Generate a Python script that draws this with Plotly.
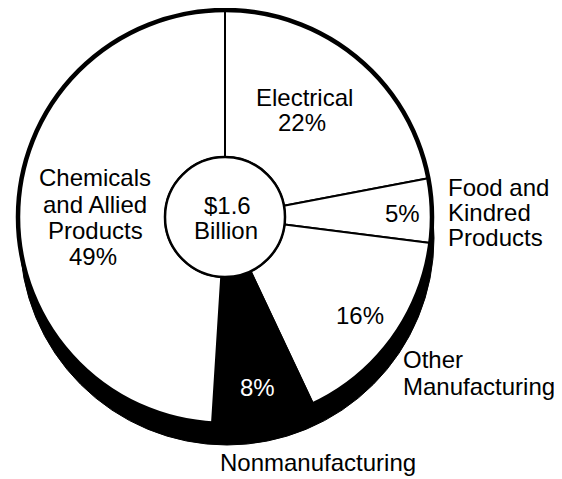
import plotly.graph_objects as go

# ---- data ----
categories = ["Electrical", "Food and Kindred Products", "Other Manufacturing",
              "Nonmanufacturing", "Chemicals and Allied Products"]
shares = [22, 5, 16, 8, 49]
slice_colors = ["white", "white", "white", "black", "white"]
center_label = ["$1.6", "Billion"]

# the page body has an 8px default margin, so the figure is offset by it
OFF = 8
W, H = 562 - OFF, 479 - OFF
CX, CY, R = 225, 217, 207      # pie centre / radius in page pixels
HOLE_R = 60
SHADOW_DX, SHADOW_DY = 2, 21

def px(x):
    return (x - OFF) / W

def py(y):
    return 1 - (y - OFF) / H

FONT = "Liberation Sans, Arial, Helvetica, sans-serif"
FS = 24

fig = go.Figure()
fig.add_trace(go.Pie(
    labels=categories,
    values=shares,
    sort=False,
    direction="clockwise",
    rotation=0,
    hole=HOLE_R / R,
    marker=dict(colors=slice_colors, line=dict(color="black", width=2)),
    textinfo="none",
    hoverinfo="label+percent",
    showlegend=False,
    domain=dict(x=[px(CX - R), px(CX + R)], y=[py(CY + R), py(CY - R)]),
))

shapes = [
    # 3-D shadow edge below the pie
    dict(type="circle", xref="paper", yref="paper", layer="below",
         x0=px(CX - R + SHADOW_DX), x1=px(CX + R + SHADOW_DX),
         y0=py(CY + R + SHADOW_DY), y1=py(CY - R + SHADOW_DY),
         fillcolor="black", line=dict(color="black", width=1)),
    # thick outer rim
    dict(type="circle", xref="paper", yref="paper", layer="above",
         x0=px(CX - R), x1=px(CX + R), y0=py(CY + R), y1=py(CY - R),
         fillcolor="rgba(0,0,0,0)", line=dict(color="black", width=4.5)),
    # centre disc
    dict(type="circle", xref="paper", yref="paper", layer="above",
         x0=px(CX - HOLE_R), x1=px(CX + HOLE_R),
         y0=py(CY + HOLE_R), y1=py(CY - HOLE_R),
         fillcolor="white", line=dict(color="black", width=2.5)),
]

# text lines: (text, x_px, y_px, anchor, colour)  -- page pixel positions
lines = [
    ("Electrical", 304, 98, "center", "black"),
    ("22%", 302, 123, "center", "black"),
    ("Chemicals", 95, 178, "center", "black"),
    ("and Allied", 95, 204, "center", "black"),
    ("Products", 95, 230, "center", "black"),
    ("49%", 93, 256, "center", "black"),
    (center_label[0], 227, 205, "center", "black"),
    (center_label[1], 226, 230, "center", "black"),
    ("5%", 402, 213, "center", "black"),
    ("Food and", 446, 187, "left", "black"),
    ("Kindred", 446, 212, "left", "black"),
    ("Products", 446, 237, "left", "black"),
    ("16%", 360, 315, "center", "black"),
    ("Other", 401, 359, "left", "black"),
    ("Manufacturing", 401, 386, "left", "black"),
    ("8%", 258, 387, "center", "white"),
    ("Nonmanufacturing", 218, 462, "left", "black"),
]
annotations = [
    dict(text=t, x=px(x), y=py(y), xref="paper", yref="paper",
         xanchor=a, yanchor="middle", showarrow=False,
         font=dict(family=FONT, size=FS, color=c))
    for t, x, y, a, c in lines
]

fig.update_layout(
    width=W, height=H, autosize=False,
    margin=dict(l=0, r=0, t=0, b=0),
    paper_bgcolor="white", plot_bgcolor="white",
    shapes=shapes, annotations=annotations,
)

fig.write_html("out.html")
